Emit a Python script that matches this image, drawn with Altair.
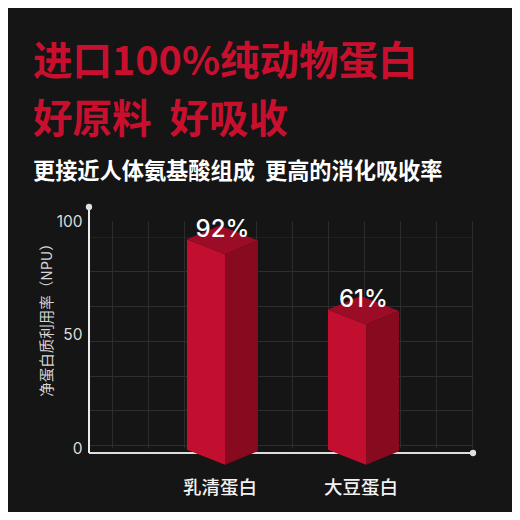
import altair as alt
import pandas as pd

# ---- data ----
categories = ["乳清蛋白", "大豆蛋白"]
values = [92, 61]
value_labels = ["92%", "61%"]
y_ticks = [0, 50, 100]
y_title = "净蛋白质利用率（NPU）"
title_1 = "进口100%纯动物蛋白"
title_2 = "好原料\u00a0\u00a0好吸收"
subtitle = "更接近人体氨基酸组成\u00a0\u00a0更高的消化吸收率"

# decorative grid positions (in scale units)
x_grid = [-0.80, -0.545, -0.29, -0.035, 0.22, 0.476, 0.731, 0.986, 1.241, 1.497, 1.752]
y_grid = [1.3, 16.6, 31.9, 47.2, 62.5, 77.8, 93.1]

# ---- style ----
BG = "#151515"
RED = "#c8102e"
FRONT = "#c20f2f"
SIDE = "#870a1f"
TOPC = "#9c0c26"
CJK = "Noto Sans CJK SC"
NUM = "Inter"

W, H = 384, 227
FW, SW, DF, DS, BASE = 0.27, 0.234, 6.6, 6.0, -0.8

bars = pd.DataFrame({
    "cat": categories,
    "value": values,
    "label": value_labels,
    "idx": list(range(len(categories))),
})

xs = alt.Scale(domain=[-0.9645, 1.7589], nice=False, zero=False)
ys = alt.Scale(domain=[0, 100], nice=False, zero=False)


def box_face(xexpr, yexpr, y2expr, npts, color):
    pts = "[" + ",".join(str(i) for i in range(npts)) + "]"
    return (
        alt.Chart(bars)
        .transform_calculate(pt=pts)
        .transform_flatten(["pt"])
        .transform_calculate(fx=xexpr, fy=yexpr, fy2=y2expr)
        .mark_area(color=color)
        .encode(
            x=alt.X("fx:Q", scale=xs, axis=None),
            y=alt.Y("fy:Q", scale=ys, axis=None, stack=None),
            y2="fy2:Q",
            detail="cat:N",
        )
    )


front = box_face(
    f"datum.idx - {FW} + {FW} * datum.pt",
    f"datum.value - {DF} * datum.pt",
    f"{BASE} - {DF} * datum.pt",
    2, FRONT,
)
side = box_face(
    f"datum.idx + {SW} * datum.pt",
    f"datum.value - {DF} + {DS} * datum.pt",
    f"{BASE} - {DF} + {DS} * datum.pt",
    2, SIDE,
)
frac = (FW - SW) / FW
top = box_face(
    f"datum.idx + [{-FW}, {SW - FW}, 0, {SW}][datum.pt]",
    f"datum.value + [0, {DS}, {DS - DF * frac}, {DS - DF}][datum.pt]",
    f"datum.value + [0, {-DF * SW / FW}, {-DF}, {DS - DF}][datum.pt]",
    4, TOPC,
)

# grid (decorative) via axes
grid = alt.Chart(bars).mark_point(opacity=0).encode(
    x=alt.X("idx:Q", scale=xs, title="", axis=alt.Axis(
        values=x_grid, grid=True, labels=False, ticks=False, domain=False,
        gridColor="#2c2c2c", gridWidth=1)),
    y=alt.Y("value:Q", scale=ys, title="", axis=alt.Axis(
        orient="right", values=y_grid, grid=True, labels=False, ticks=False,
        domain=False, gridColor="#2e2e2e", gridWidth=1,
        gridOpacity={"condition": {"test": "datum.value > 90", "value": 0.5}, "value": 1})),
)

yaxis = alt.Chart(pd.DataFrame({"t": y_ticks})).mark_point(opacity=0).encode(
    y=alt.Y("t:Q", scale=ys, title=y_title, axis=alt.Axis(
        values=y_ticks, grid=False, ticks=False, domain=False,
        labelColor="#dcdcdc", labelFont=NUM, labelFontSize=15.5, labelPadding=7,
        titleColor="#d6d6d6", titleFont=CJK, titleFontSize=14.5, titleFontWeight="normal",
        titleAngle=270, titleAlign="center", titleBaseline="middle",
        titleX=-42, titleY=95)),
)

one = pd.DataFrame({"k": [0]})
yline = alt.Chart(one).mark_rule(color="#ececec", strokeWidth=2).encode(
    x=alt.value(0), y=alt.value(-14), y2=alt.value(232))
xline = alt.Chart(one).mark_rule(color="#dedede", strokeWidth=2).encode(
    x=alt.value(0), x2=alt.value(384), y=alt.value(232))
ydot = alt.Chart(one).mark_circle(color="#e0e0e0", opacity=1, size=40).encode(
    x=alt.value(0), y=alt.value(-14))
xdot = alt.Chart(one).mark_circle(color="#e0e0e0", opacity=1, size=40).encode(
    x=alt.value(384), y=alt.value(232))

vlabels = alt.Chart(bars).transform_calculate(
    lx=f"datum.idx + {(SW - FW) / 2}"
).mark_text(font=NUM, fontSize=24, fontWeight=500, color="#ffffff", baseline="alphabetic", dy=-2.5).encode(
    x=alt.X("lx:Q", scale=xs, axis=None),
    y=alt.Y("value:Q", scale=ys, axis=None),
    text="label:N",
)

clabels = alt.Chart(bars).transform_calculate(
    lx="datum.idx - 0.035"
).mark_text(font=CJK, fontSize=18.5, fontWeight=500, color="#f2f2f2", baseline="middle").encode(
    x=alt.X("lx:Q", scale=xs, axis=None),
    y=alt.value(267),
    text="cat:N",
)


def title_text(txt, size, color, y):
    return alt.Chart(pd.DataFrame({"t": [txt]})).mark_text(
        font=CJK, fontSize=size, fontWeight="bold", color=color,
        align="left", baseline="middle",
    ).encode(x=alt.value(-56), y=alt.value(y), text="t:N")


t1 = title_text(title_1, 39.5, RED, -158)
t2 = title_text(title_2, 39.5, RED, -100)
t3 = title_text(subtitle, 22.2, "#ffffff", -49.5)

chart = (
    alt.layer(grid, yaxis, xline, yline, ydot, xdot, front, side, top, vlabels, clabels, t1, t2, t3)
    .resolve_axis(x="independent", y="independent")
    .properties(
        width=W,
        height=H,
        padding={"left": 81, "top": 213, "right": 39, "bottom": 64},
        autosize=alt.AutoSizeParams(type="none"),
        background=BG,
    )
    .configure_view(strokeWidth=0)
)

chart.save("out.html", embed_options={"renderer": "svg", "actions": False})
